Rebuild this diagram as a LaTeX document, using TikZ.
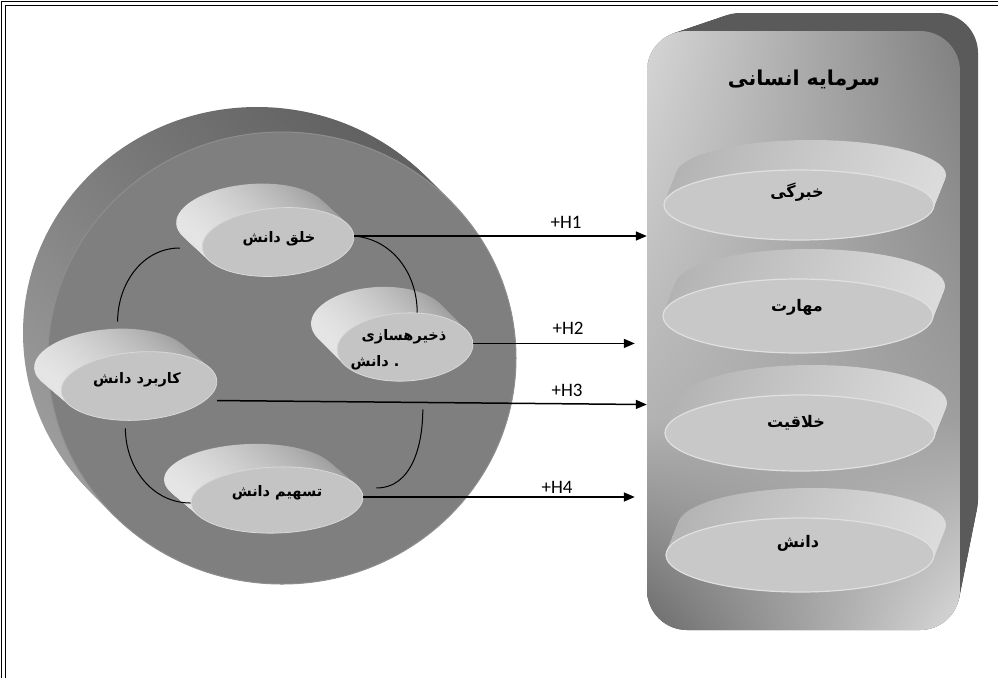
\documentclass[tikz,border=0pt]{standalone}
\usepackage{fontspec}
\usetikzlibrary{arrows.meta,shapes.geometric,calc,shadings}
\TeXXeTstate=1
\newfontfamily\arabfont[Script=Arabic]{DejaVu Sans}
\newfontfamily\latnfont{Carlito}
\definecolor{bigface}{HTML}{7F7F7F}
\definecolor{bigrim}{HTML}{8E8E8E}
\definecolor{smface}{HTML}{C4C4C4}
\definecolor{smrim}{HTML}{D8D8D8}
\definecolor{rface}{HTML}{C8C8C8}
\definecolor{rrim}{HTML}{E0E0E0}
\definecolor{pside}{HTML}{5A5A5A}
\newcommand\stackell[8]{%
  \foreach \k in {0,...,24}{%
    \pgfmathsetmacro\skx{#1+(#3-#1)*\k/24}%
    \pgfmathsetmacro\sky{#2+(#4-#2)*\k/24}%
    \path[#8, rotate around={#7:(\skx,\sky)}] (\skx,\sky) ellipse ({#5pt} and {#6pt});
  }}
\newcommand\stackbox[8]{%
  \foreach \k in {0,...,24}{%
    \pgfmathsetmacro\skx{#1+(#5-#1)*\k/24}%
    \pgfmathsetmacro\sky{#2+(#6-#2)*\k/24}%
    \pgfmathsetmacro\skX{#3+(#7-#3)*\k/24}%
    \pgfmathsetmacro\skY{#4+(#8-#4)*\k/24}%
    \fill[pside, rounded corners=40pt] (\skx,\sky) rectangle (\skX,\skY);
  }}
\begin{document}
\begin{tikzpicture}[x=1pt,y=1pt,
  bigside/.style={top color=black!62, bottom color=black!38, shading angle=-40},
  sideL/.style={left color=black!10, right color=black!40},
  sideR/.style={left color=black!30, middle color=black!46, right color=black!14},
  bigdisk/.style={ellipse, inner sep=0pt, fill=bigface, draw=bigrim, line width=1pt},
  smdisk/.style={ellipse, inner sep=0pt, fill=smface, draw=smrim, line width=0.8pt},
  rdisk/.style={ellipse, inner sep=0pt, fill=rface, draw=rrim, line width=1.2pt},
  ar/.style={font=\arabfont\bfseries\fontsize{14.5}{16}\selectfont, inner sep=0pt},
  arbig/.style={font=\arabfont\bfseries\fontsize{16}{18}\selectfont, inner sep=0pt},
  artitle/.style={font=\arabfont\bfseries\fontsize{20.5}{24}\selectfont, inner sep=0pt},
  lab/.style={font=\latnfont\fontsize{19}{21}\selectfont, inner sep=0pt},
  cyc/.style={line width=1pt},
  arr/.style={line width=1.5pt, -{Triangle[length=11pt,width=9pt]}}]
\useasboundingbox (0,0) rectangle (998,-678);
\fill[white] (0,0) rectangle (998,-678);
% frame
\draw[line width=1.2pt] (1.5,-678) -- (1.5,-1.5) -- (998,-1.5);
\draw[line width=0.6pt] (5.5,-678) -- (5.5,-5.5) -- (998,-5.5);

% big disk
\stackell{257}{-333}{282}{-358}{234}{226}{0}{bigside}
\node[bigdisk, minimum width=468pt, minimum height=452pt] (bigF) at (282,-358) {};

% right panel
\stackbox{700}{-13}{978}{-540}{647}{-31}{960}{-630}
\begin{scope}
  \clip[rounded corners=40pt] (647,-31) rectangle (960,-630);
  \shade[upper left=black!16, upper right=black!50, lower left=black!30, lower right=black!38] (647,-31) rectangle (960,-420);
  \shade[upper left=black!30, upper right=black!38, lower left=black!58, lower right=black!15] (647,-420) rectangle (960,-630);
\end{scope}
\node[rectangle, rounded corners=40pt, minimum width=313pt, minimum height=599pt, inner sep=0pt] (hc) at (803.5,-330.5) {};
\node[artitle] (title) at (804,-80) {\beginR سرمایه انسانی\endR};

% right disks
\stackell{811}{-175}{799}{-205}{135}{35}{0}{sideR}
\node[rdisk, minimum width=270pt, minimum height=70pt] (khobF) at (799,-205) {};
\node[arbig] (khob) at (797,-192) {\beginR خبرگی\endR};

\stackell{810}{-286}{798}{-316}{135}{37}{0}{sideR}
\node[rdisk, minimum width=270pt, minimum height=74pt] (mahF) at (798,-316) {};
\node[arbig] (mah) at (797,-307) {\beginR مهارت\endR};

\stackell{812}{-403}{800}{-433}{135}{38}{0}{sideR}
\node[rdisk, minimum width=270pt, minimum height=76pt] (khalF) at (800,-433) {};
\node[arbig] (khal) at (796,-423) {\beginR خلاقیت\endR};

\stackell{812}{-525}{800}{-555}{134}{37}{0}{sideR}
\node[rdisk, minimum width=268pt, minimum height=74pt] (danF) at (800,-555) {};
\node[arbig] (dan) at (798,-543) {\beginR دانش\endR};

% small disks
\stackell{252}{-218}{278}{-242}{76}{34}{4.5}{sideL}
\node[smdisk, rotate=4.5, minimum width=152pt, minimum height=68pt] (khalqF) at (278,-242) {};
\node[ar] (khalq) at (279,-239) {\beginR خلق دانش\endR};

\stackell{379}{-321}{405}{-347}{68}{34}{3}{sideL}
\node[smdisk, rotate=3, minimum width=136pt, minimum height=68pt] (dhakhF) at (405,-347) {};
\node[ar] (dhakh1) at (404,-337) {\beginR ذخیرهسازی\endR};
\node[ar] (dhakh2) at (375,-363) {\beginR دانش\endR{} .};

\stackell{112}{-363}{139}{-386}{78}{34}{4}{sideL}
\node[smdisk, rotate=4, minimum width=156pt, minimum height=68pt] (karF) at (139,-386) {};
\node[ar] (kar) at (137,-380) {\beginR کاربرد دانش\endR};

\stackell{250}{-477}{277}{-500}{86}{33}{2}{sideL}
\node[smdisk, rotate=2, minimum width=172pt, minimum height=66pt] (tashF) at (277,-500) {};
\node[ar] (tash) at (277,-493) {\beginR تسهیم دانش\endR};

% cycle curves
\draw[cyc] ([xshift=-22pt]khalqF.west) to[out=180,in=90] ([shift={(-19pt,30pt)}]karF.north);
\draw[cyc] (khalqF.east) to[out=-5,in=90] ([xshift=14pt]dhakhF.north);
\draw[cyc] ([shift={(-16pt,-8pt)}]karF.south) to[out=-90,in=180] (tashF.west);
\draw[cyc] ([shift={(13pt,9pt)}]tashF.east) to[out=0,in=-90] ([shift={(16pt,-28pt)}]dhakhF.south);

% arrows
\draw[arr] (khalqF.east) -- (khalqF.east -| hc.west);
\draw[arr] (dhakhF.east) -- ([xshift=-12pt]dhakhF.east -| hc.west);
\draw[arr] ([yshift=-20pt]karF.east) -- ([yshift=-24pt]karF.east -| hc.west);
\draw[arr] (tashF.east) -- ([xshift=-12pt]tashF.east -| hc.west);

\node[lab] (h1) at (566,-222) {+H1};
\node[lab] (h2) at (568,-328) {+H2};
\node[lab] (h3) at (567,-390) {+H3};
\node[lab] (h4) at (557,-487) {+H4};
\end{tikzpicture}
\end{document}
